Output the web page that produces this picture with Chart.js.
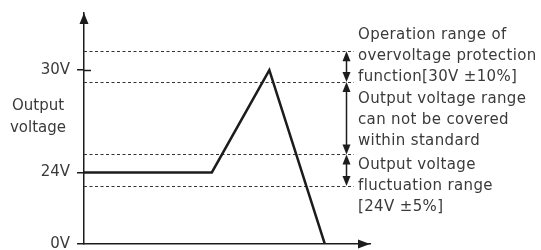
<!DOCTYPE html>
<html>
<head>
<meta charset="utf-8">
<script src="https://cdn.jsdelivr.net/npm/chart.js@4/dist/chart.umd.min.js"></script>
<style>
  html, body { margin: 0; padding: 0; background: #fff; }
  #wrap { width: 541px; height: 250px; }
</style>
</head>
<body>
<div id="wrap"><canvas id="voltChart"></canvas></div>
<script>
// -------------------- DATA --------------------
// time axis is unitless (0 = origin, 100 = end of arrow)
const timePoints = [0, 44.7, 64.8, 84.2];
const outputVoltage = [24, 24, 30, 0]; // V

const voltTicks = [0, 24, 30]; // V
const AXIS_FLOOR = 19.8;   // schematic axis is broken: 0V is drawn here
const AXIS_TOP = 33.35;
const TIME_END = 100;

// dotted limit lines (V) (not to scale)
const limitLines = [31.1, 29.3, 25.05, 23.2];

// double arrows between the limit lines
const rangeBands = [[31.1, 29.3], [29.3, 25.05], [25.05, 23.2]];

const rangeNotes = [
    ['Operation range of', 'overvoltage protection', 'function[30V \u00b110%]'],
    ['Output voltage range', 'can not be covered', 'within standard'],
    ['Output voltage', 'fluctuation range', '[24V \u00b15%]']
];

const yAxisTitle = ['Output', 'voltage'];

// -------------------- HELPERS --------------------
const FONT = '15px "DejaVu Sans", sans-serif';
const TEXT_COLOR = '#3a3a3a';
const INK = '#1c1c1c';

const toAxis = v => (v === 0 ? AXIS_FLOOR : v);

function arrowHead(ctx, x, y, dir, w, h) {
    ctx.beginPath();
    if (dir === 'up') {
        ctx.moveTo(x, y); ctx.lineTo(x - w / 2, y + h); ctx.lineTo(x + w / 2, y + h);
    } else if (dir === 'down') {
        ctx.moveTo(x, y); ctx.lineTo(x - w / 2, y - h); ctx.lineTo(x + w / 2, y - h);
    } else {
        ctx.moveTo(x, y); ctx.lineTo(x - h, y - w / 2); ctx.lineTo(x - h, y + w / 2);
    }
    ctx.closePath();
    ctx.fill();
}

// dotted lines, arrows, notes
const sketchPlugin = {
    id: 'sketch',
    beforeDatasetsDraw(chart) {
        const { ctx, chartArea: a, scales: { x, y } } = chart;
        ctx.save();
        ctx.strokeStyle = '#333';
        ctx.lineWidth = 1.2;
        ctx.setLineDash([3, 2.5]);
        const endX = x.getPixelForValue(94.4);
        limitLines.forEach(v => {
            const py = Math.round(y.getPixelForValue(v)) + 0.5;
            ctx.beginPath();
            ctx.moveTo(a.left, py);
            ctx.lineTo(endX, py);
            ctx.stroke();
        });
        ctx.restore();
    },
    afterDraw(chart) {
        const { ctx, chartArea: a, scales: { x, y } } = chart;
        ctx.save();
        ctx.fillStyle = INK;
        ctx.strokeStyle = INK;

        // axis arrow heads
        arrowHead(ctx, a.left, a.top, 'up', 9, 11);
        arrowHead(ctx, a.right, a.bottom, 'right', 9, 12);

        // 30V tick crosses the axis
        ctx.lineWidth = 1.5;
        const p30 = Math.round(y.getPixelForValue(30)) + 0.5;
        ctx.beginPath();
        ctx.moveTo(a.left, p30);
        ctx.lineTo(a.left + 7, p30);
        ctx.stroke();

        // range arrows
        const ax = Math.round(x.getPixelForValue(91.5)) + 0.5;
        rangeBands.forEach(([hi, lo]) => {
            const top = y.getPixelForValue(hi);
            const bot = y.getPixelForValue(lo);
            ctx.beginPath();
            ctx.moveTo(ax, top + 4);
            ctx.lineTo(ax, bot - 4);
            ctx.stroke();
            arrowHead(ctx, ax, top, 'up', 8, 10);
            arrowHead(ctx, ax, bot, 'down', 8, 10);
        });

        // notes
        ctx.font = FONT;
        ctx.fillStyle = TEXT_COLOR;
        ctx.textBaseline = 'middle';
        ctx.textAlign = 'left';
        ctx.letterSpacing = '0.35px';
        const noteTop = [35, 99, 165];
        rangeNotes.forEach((lines, i) => {
            lines.forEach((t, j) => ctx.fillText(t, 358, noteTop[i] + j * 21));
        });

        // y axis title
        ctx.letterSpacing = '0px';
        ctx.textAlign = 'center';
        yAxisTitle.forEach((t, j) => ctx.fillText(t, 38, 106 + j * 22));
        ctx.restore();
    }
};

// -------------------- CHART --------------------
const ctx = document.getElementById('voltChart').getContext('2d');
new Chart(ctx, {
    type: 'line',
    data: {
        datasets: [{
            data: timePoints.map((t, i) => ({ x: t, y: toAxis(outputVoltage[i]) })),
            borderColor: INK,
            borderWidth: 2.5,
            pointRadius: 0,
            tension: 0,
            borderJoinStyle: 'miter'
        }]
    },
    options: {
        responsive: true,
        maintainAspectRatio: false,
        animation: false,
        layout: { padding: { top: 13, right: 171, bottom: 6, left: 0 } },
        plugins: {
            legend: { display: false },
            tooltip: { enabled: false }
        },
        scales: {
            x: {
                type: 'linear',
                min: 0,
                max: TIME_END,
                grid: { display: false, drawTicks: false },
                ticks: { display: false },
                border: { display: true, color: INK, width: 1.5 }
            },
            y: {
                type: 'linear',
                min: AXIS_FLOOR,
                max: AXIS_TOP,
                afterBuildTicks: (scale) => {
                    scale.ticks = voltTicks.map(v => ({ value: toAxis(v) }));
                },
                afterFit: (scale) => {
                    scale.width = 84;
                    scale.paddingBottom = 0;
                    scale.paddingTop = 0;
                },
                ticks: {
                    padding: 7,
                    color: TEXT_COLOR,
                    font: { family: '"DejaVu Sans", sans-serif', size: 15 },
                    callback: (v) => (v === AXIS_FLOOR ? 0 : v) + 'V'
                },
                grid: {
                    drawOnChartArea: false,
                    drawTicks: true,
                    tickLength: 7,
                    color: INK,
                    lineWidth: 1.5
                },
                border: { display: true, color: INK, width: 1.5 }
            }
        }
    },
    plugins: [sketchPlugin]
});
</script>
</body>
</html>
